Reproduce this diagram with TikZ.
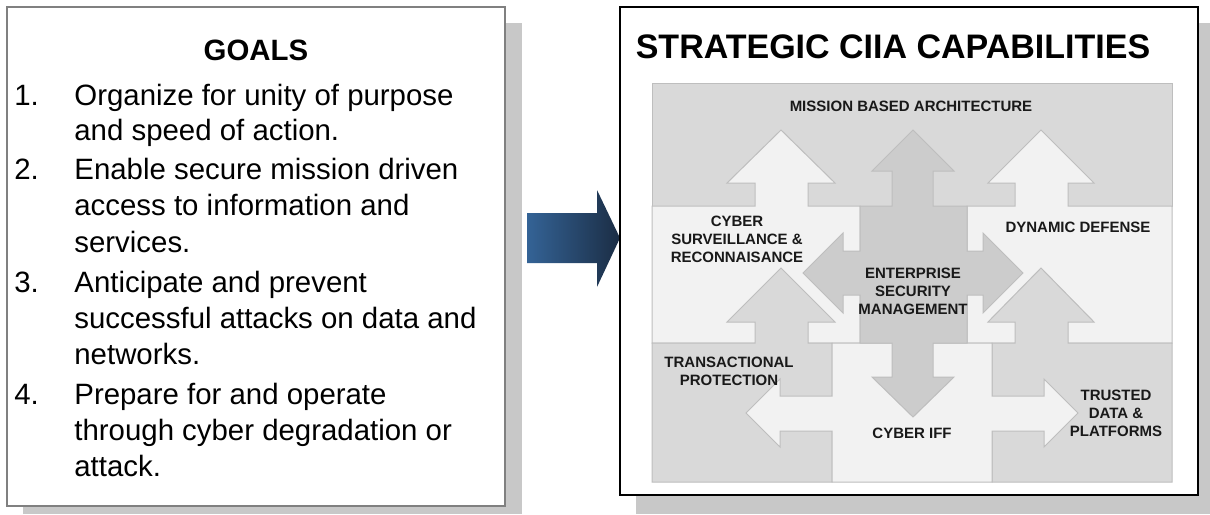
\documentclass[tikz,border=0pt]{standalone}
\usepackage{fontspec}
\setmainfont{Liberation Sans}
\usetikzlibrary{calc}

\definecolor{bandgray}{RGB}{217,217,217}
\definecolor{panellight}{RGB}{242,242,242}
\definecolor{esmgray}{RGB}{204,204,204}
\definecolor{edgegray}{RGB}{190,190,190}
\definecolor{shadowgray}{RGB}{200,200,200}
\definecolor{arrowblue}{RGB}{52,99,150}
\definecolor{arrownavy}{RGB}{27,45,68}

\begin{document}
\begin{tikzpicture}[x=0.5pt,y=-0.5pt,
    cell/.style={draw=edgegray,line width=0.5pt},
    lbl/.style={font=\fontsize{7.5}{9}\selectfont\bfseries,align=center,inner sep=0pt,text=black!90},
    goaltext/.style={font=\fontsize{14.7}{18}\selectfont,anchor=base west,inner sep=0pt}]
    \useasboundingbox (0,0) rectangle (1210,514);

    % Draw the goals box with its shadow
    \fill[shadowgray] (23,23) rectangle (522,514);
    \draw[fill=white,draw=gray,line width=1pt] (7,7) rectangle (505,506);
    \node[font=\fontsize{14.7}{18}\selectfont\bfseries] (goals) at (256,50) {GOALS};
    \foreach \n/\y in {1/105, 2/179, 3/292, 4/404}
    \node[goaltext] (num\n) at (14,\y) {\n.};
    \foreach \i/\y/\txt in {1/105/Organize for unity of purpose, 2/140/and speed of action.,
        3/179/Enable secure mission driven, 4/215/access to information and, 5/252/services.,
        6/292/Anticipate and prevent, 7/328/successful attacks on data and, 8/364/networks.,
        9/404/Prepare for and operate, 10/440/through cyber degradation or, 11/476/attack.}
    \node[goaltext] (line\i) at (74,\y) {\txt};

    % Draw the block arrow between the boxes
    \shade[left color=arrowblue,right color=arrownavy] (527,213) -- (597,213) -- (597,190)
        -- (620,238) -- (597,287) -- (597,263) -- (527,263) -- cycle;

    % Draw the capabilities box with its shadow
    \fill[shadowgray] (636,23) rectangle (1210,514);
    \draw[fill=white,line width=1.2pt] (620,7) rectangle (1198,495);
    \node[font=\fontsize{17}{20}\selectfont\bfseries] (title) at (893,47) {STRATEGIC CIIA CAPABILITIES};

    % Draw the cells, each with its arrow
    \draw[cell,fill=bandgray] (652,83) rectangle (1172,206);
    \draw[cell,fill=panellight] (652,343) -- (652,206) -- (755,206) -- (755,183) -- (727,183) -- (781,130)
        -- (835,183) -- (808,183) -- (808,206) -- (860,206) -- (860,343) -- cycle;
    \draw[cell,fill=panellight] (967,343) -- (967,206) -- (1015,206) -- (1015,183) -- (988,183) -- (1041,130)
        -- (1094,183) -- (1068,183) -- (1068,206) -- (1172,206) -- (1172,343) -- cycle;
    \draw[cell,fill=bandgray] (652,482) -- (652,343) -- (755,343) -- (755,322) -- (727,322) -- (781,268)
        -- (835,322) -- (808,322) -- (808,343) -- (832,343) -- (832,482) -- cycle;
    \draw[cell,fill=bandgray] (992,482) -- (992,343) -- (1015,343) -- (1015,322) -- (988,322) -- (1041,268)
        -- (1094,322) -- (1068,322) -- (1068,343) -- (1172,343) -- (1172,482) -- cycle;
    \draw[cell,fill=panellight] (832,343) -- (992,343) -- (992,396) -- (1044,396) -- (1044,379) -- (1078,413)
        -- (1044,447) -- (1044,431) -- (992,431) -- (992,482) -- (832,482) -- (832,431) -- (780,431)
        -- (780,447) -- (746,413) -- (780,379) -- (780,396) -- (832,396) -- cycle;
    \draw[cell,fill=esmgray] (860,206) -- (892,206) -- (892,171) -- (872,171) -- (913,130) -- (954,171)
        -- (933,171) -- (933,206) -- (967,206) -- (967,251) -- (983,251) -- (983,233) -- (1023,273)
        -- (983,313) -- (983,295) -- (967,295) -- (967,343) -- (933,343) -- (933,377) -- (954,377)
        -- (913,417) -- (872,377) -- (892,377) -- (892,343) -- (860,343) -- (860,295) -- (843,295)
        -- (843,313) -- (803,273) -- (843,233) -- (843,251) -- (860,251) -- cycle;

    % Label the cells
    \node[lbl] (mba) at (911,106) {MISSION BASED ARCHITECTURE};
    \node[lbl] (csr) at (737,239) {CYBER\\SURVEILLANCE \&\\RECONNAISANCE};
    \node[lbl] (dd) at (1078,227) {DYNAMIC DEFENSE};
    \node[lbl] (esm) at (913,291) {ENTERPRISE\\SECURITY\\MANAGEMENT};
    \node[lbl] (tp) at (729,371) {TRANSACTIONAL\\PROTECTION};
    \node[lbl] (iff) at (912,433) {CYBER IFF};
    \node[lbl] (tdp) at (1116,413) {TRUSTED\\DATA \&\\PLATFORMS};
\end{tikzpicture}
\end{document}
